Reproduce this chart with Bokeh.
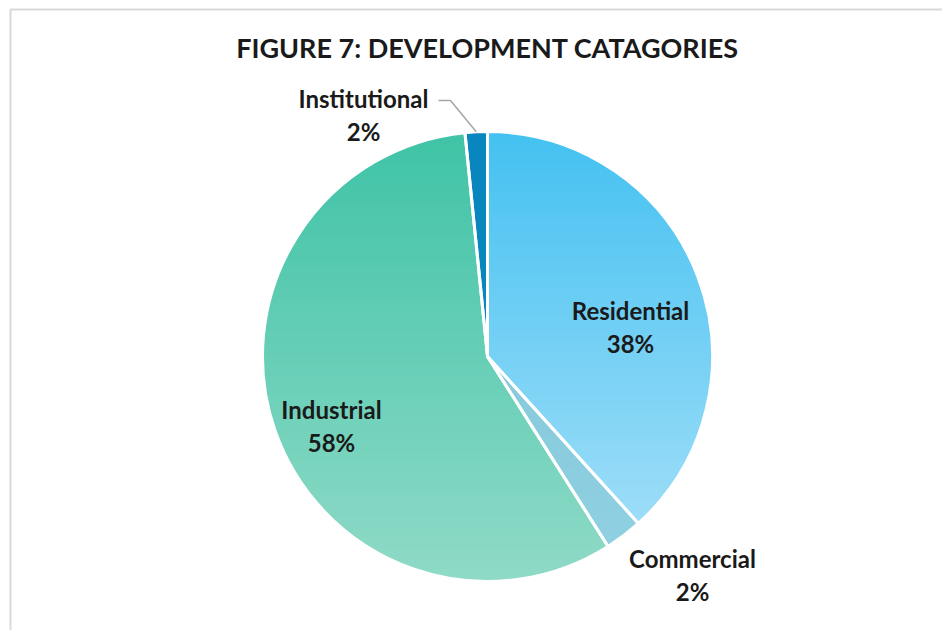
import math
from bokeh.plotting import figure
from bokeh.models import Range1d
from bokeh.core.properties import value
from bokeh.embed import file_html
from bokeh.resources import INLINE

# ---- data ----
title_text = "FIGURE 7: DEVELOPMENT CATAGORIES"
categories = ["Residential", "Commercial", "Industrial", "Institutional"]
shares = [38.3, 2.7, 57.4, 1.6]
pct_labels = ["38%", "2%", "58%", "2%"]
top_colors = ["#44C1F1", "#86CADC", "#3FC3A6", "#0A86BE"]
bottom_colors = ["#9DDDF8", "#8FD0E2", "#8FDAC7", "#0A86BE"]

W, H = 942, 630
CX, CY, R = 487, 630 - 356, 225


def Y(py):
    return H - py


p = figure(width=W, height=H, output_backend="svg", toolbar_location=None,
           x_range=Range1d(0, W), y_range=Range1d(0, H), min_border=0)
p.axis.visible = False
p.grid.visible = False
p.outline_line_color = None
p.background_fill_color = "white"
p.border_fill_color = "white"

# chart frame (top and left edges visible)
p.line(x=[10, 10, W], y=[0, Y(9), Y(9)], line_color="#D9D9D9", line_width=2)


def hex2rgb(h):
    h = h.lstrip("#")
    return tuple(int(h[i:i + 2], 16) for i in (0, 2, 4))


def mix(c1, c2, t):
    a, b = hex2rgb(c1), hex2rgb(c2)
    return "#%02x%02x%02x" % tuple(int(round(a[i] + (b[i] - a[i]) * t)) for i in range(3))


def clip(poly, yv, keep_above):
    out = []
    n = len(poly)
    for i in range(n):
        cur, prev = poly[i], poly[i - 1]
        cin = cur[1] >= yv if keep_above else cur[1] <= yv
        pin = prev[1] >= yv if keep_above else prev[1] <= yv
        if cin:
            if not pin:
                t = (yv - prev[1]) / (cur[1] - prev[1])
                out.append((prev[0] + t * (cur[0] - prev[0]), yv))
            out.append(cur)
        elif pin:
            t = (yv - prev[1]) / (cur[1] - prev[1])
            out.append((prev[0] + t * (cur[0] - prev[0]), yv))
    return out


total = sum(shares)
cum = 0.0
starts, ends, mids = [], [], []
for s in shares:
    a0 = math.pi / 2 - 2 * math.pi * cum / total
    a1 = math.pi / 2 - 2 * math.pi * (cum + s) / total
    starts.append(a1)
    ends.append(a0)
    mids.append((a0 + a1) / 2)
    cum += s

xs_all, ys_all, cols_all = [], [], []
NB = 70
for i in range(len(shares)):
    a_hi, a_lo = ends[i], starts[i]
    n = max(8, int(abs(a_hi - a_lo) * 80))
    poly = [(CX, CY)]
    for k in range(n + 1):
        a = a_hi + (a_lo - a_hi) * k / n
        poly.append((CX + R * math.cos(a), CY + R * math.sin(a)))
    ymax = max(pt[1] for pt in poly)
    ymin = min(pt[1] for pt in poly)
    step = (ymax - ymin) / NB
    for b in range(NB):
        y_top = ymax - b * step
        y_bot = y_top - step - 0.8
        piece = clip(clip(poly, y_bot, True), y_top, False)
        if len(piece) < 3:
            continue
        xs_all.append([pt[0] for pt in piece])
        ys_all.append([pt[1] for pt in piece])
        cols_all.append(mix(top_colors[i], bottom_colors[i], (b + 0.5) / NB))

p.patches(xs_all, ys_all, fill_color=cols_all, line_color=None)

# white separators and outline
p.wedge(x=[CX] * len(shares), y=[CY] * len(shares), radius=R,
        start_angle=starts, end_angle=ends, fill_color=None,
        line_color="white", line_width=3, radius_units="data")

FONT = value("Lato")

# title
p.text(x=[487], y=[Y(47)], text=[title_text], text_font=FONT,
       text_font_size="27px", text_font_style="bold", text_color="#1a1a1a",
       text_align="center", text_baseline="middle")

# label anchor (pixel centre of the two-line label block)
label_xy = {
    "Residential": (630, 326.5),
    "Commercial": (692, 574.5),
    "Industrial": (331, 425.5),
    "Institutional": (363, 114),
}
for i, c in enumerate(categories):
    px, py = label_xy[c]
    lx, ly = px, Y(py)
    p.text(x=[lx, lx], y=[ly + 16.5, ly - 16.5], text=[c, pct_labels[i]],
           text_font=FONT, text_font_size="24px", text_font_style="bold",
           text_color="#1a1a1a", text_align="center", text_baseline="middle")
    if c == "Institutional":
        ex = CX + R * math.cos(mids[i])
        ey = CY + R * math.sin(mids[i])
        p.line(x=[438, 450, ex], y=[Y(100), Y(100), ey],
               line_color="#A6A6A6", line_width=1.5)

open("out.html", "w").write(file_html(p, INLINE))
